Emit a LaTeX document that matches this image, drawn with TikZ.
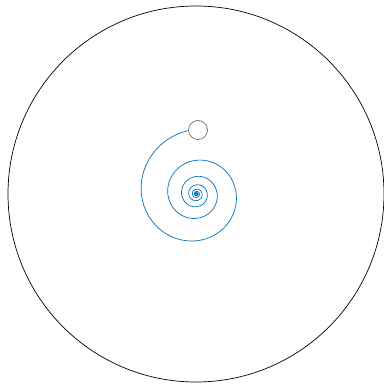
\documentclass[tikz,border=0pt]{standalone}
\usepackage{tikz}
\definecolor{spiralblue}{RGB}{0, 114, 189}
\definecolor{ballgray}{RGB}{90, 90, 90}

\begin{document}
\begin{tikzpicture}[x=1pt, y=1pt, line width=0.7pt]
		%Bildbereich
		\useasboundingbox (0,0) rectangle (383,385);
		% grosser Kreis
		\draw[black] (196,191) circle (188);
		% Spirale
		\draw[spiralblue,domain=97:2700,samples=900,smooth] plot ({196.5+64*exp(-0.104*rad(\x-97))*cos(\x)}, {191+64*exp(-0.104*rad(\x-97))*sin(\x)});
		% kleiner Kreis
		\draw[ballgray,line width=0.6pt,fill=white] (198,255) circle (9.5);
\end{tikzpicture}
\end{document}
